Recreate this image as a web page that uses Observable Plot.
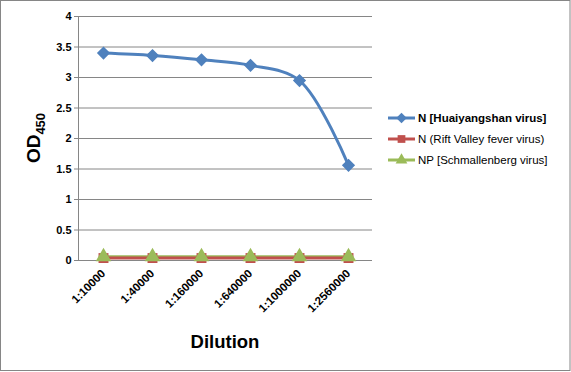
<!DOCTYPE html>
<html><head><meta charset="utf-8">
<script src="https://cdn.jsdelivr.net/npm/d3@7"></script>
<script src="https://cdn.jsdelivr.net/npm/@observablehq/plot@0.6"></script>
<style>
body{margin:0;background:#fff}
#chart{position:relative;width:571px;height:372px;overflow:hidden}
</style>
</head><body><div id="chart"></div>
<script>
const dilutions = ["1:10000","1:40000","1:160000","1:640000","1:1000000","1:2560000"];
const seriesNames = ["N [Huaiyangshan virus]","N (Rift Valley fever virus)","NP [Schmallenberg virus]"];
const huaiyangshan = [3.40,3.36,3.29,3.20,2.95,1.56];
const riftValley = [0.04,0.04,0.04,0.04,0.04,0.04];
const schmallenberg = [0.06,0.06,0.06,0.06,0.06,0.06];
const yTicks = [0,0.5,1,1.5,2,2.5,3,3.5,4];
const colors = ["#4F81BD","#C0504D","#9BBB59"];
const symbols = ["diamond2","square","triangle"];
const radii = [5,5.6,5.8];

const allSeries = [huaiyangshan, riftValley, schmallenberg];
const rows = allSeries.flatMap((vals, si) => vals.map((v, i) => ({series: seriesNames[si], dilution: dilutions[i], od: v, si})));
const font = "'Liberation Sans', Arial, sans-serif";
const W = 571, H = 372;
const mL = 78, mR = 199, mT = 16, mB = 112;

const marks = [
  Plot.gridY(yTicks, {stroke: "#868686", strokeOpacity: 1}),
  Plot.frame({anchor: "left", stroke: "#868686"}),
  Plot.axisY(yTicks, {tickSize: 4, stroke: "#868686", tickFormat: d => String(d), fontWeight: "bold", fontSize: 11, fill: "#000", tickPadding: 3, label: null}),
  Plot.axisX({tickSize: 0, tickRotate: -45, fontWeight: "bold", fontSize: 11.5, fill: "#000", tickPadding: 11, label: null}),
];
[2,1,0].forEach(si => {
  const data = rows.filter(r => r.si === si);
  marks.push(Plot.line(data, {x: "dilution", y: "od", stroke: colors[si], strokeWidth: 3, curve: si === 0 ? "catmull-rom" : "linear"}));
});
[1,2,0].forEach(si => {
  const data = rows.filter(r => r.si === si);
  marks.push(Plot.dot(data, {x: "dilution", y: "od", symbol: () => symbols[si], r: radii[si], fill: colors[si], stroke: colors[si], strokeWidth: si === 0 ? 1.5 : 0}));
});

const chart = Plot.plot({
  width: W, height: H,
  marginLeft: mL, marginRight: mR, marginTop: mT, marginBottom: mB,
  style: {fontFamily: font, background: "#fff", overflow: "visible"},
  x: {type: "point", domain: dilutions, padding: 0.5},
  y: {domain: [0, 4], ticks: yTicks},
  symbol: {type: "identity"},
  marks
});
document.getElementById("chart").appendChild(chart);

const svg = d3.select(chart);
// outer border
svg.append("rect").attr("x", 0.5).attr("y", 0.5).attr("width", W - 1.5).attr("height", H - 2)
  .attr("fill", "none").attr("stroke", "#868686");
// y title
const yt = svg.append("text").attr("transform", `translate(40,${(mT + H - mB) / 2}) rotate(-90)`)
  .attr("text-anchor", "middle").attr("font-family", font).attr("font-weight", "bold").attr("font-size", 19).attr("fill", "#000");
yt.append("tspan").text("OD");
yt.append("tspan").attr("font-size", 13).attr("dy", 5).text("450");
// x title
svg.append("text").attr("x", (mL + W - mR) / 2).attr("y", 348).attr("text-anchor", "middle")
  .attr("font-family", font).attr("font-weight", "bold").attr("font-size", 18.5).attr("fill", "#000").text("Dilution");
// legend
const sym = [d3.symbolDiamond2, d3.symbolSquare, d3.symbolTriangle];
seriesNames.forEach((name, i) => {
  const y = 118 + i * 21;
  const g = svg.append("g");
  g.append("line").attr("x1", 388).attr("x2", 415).attr("y1", y).attr("y2", y).attr("stroke", colors[i]).attr("stroke-width", 3);
  g.append("path").attr("d", d3.symbol(sym[i], i === 0 ? 70 : 60)()).attr("transform", `translate(401.5,${y})`).attr("fill", colors[i]);
  g.append("text").attr("x", 418).attr("y", y).attr("dy", "0.35em").attr("text-anchor", "start").attr("font-family", font).attr("font-size", 11.5)
    .attr("font-weight", i === 0 ? "bold" : "normal").attr("fill", "#000").text(name);
});
</script>
</body></html>
